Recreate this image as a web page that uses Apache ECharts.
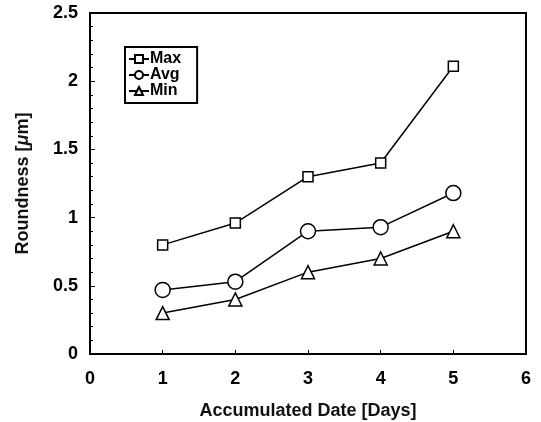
<!DOCTYPE html>
<html>
<head>
<meta charset="utf-8">
<script src="https://cdn.jsdelivr.net/npm/echarts@6/dist/echarts.min.js"></script>
<style>
  html, body { margin: 0; padding: 0; background: #fff; }
  #main { width: 541px; height: 422px; }
</style>
</head>
<body>
<div id="main"></div>
<script>
  // data
  const days = [1, 2, 3, 4, 5]
  const maxVals = [0.8, 0.96, 1.3, 1.4, 2.11]
  const avgVals = [0.47, 0.53, 0.9, 0.93, 1.18]
  const minVals = [0.3, 0.4, 0.6, 0.7, 0.9]

  const pairs = (ys) => days.map((d, i) => [d, ys[i]])
  const font = 'Arial, "Liberation Sans", Helvetica, sans-serif'

  function lineSeries(name, ys, symbol, size) {
    return {
      name: name,
      type: 'line',
      data: pairs(ys),
      symbol: symbol,
      symbolSize: size,
      showAllSymbol: true,
      lineStyle: { color: '#000', width: 1.5 },
      itemStyle: { color: '#fff', borderColor: '#000', borderWidth: 1.5 },
      emphasis: { disabled: true },
      z: 3
    }
  }

  let myChart = echarts.init(document.getElementById('main'), null, { renderer: 'canvas' })
  myChart.setOption({
    animation: false,
    backgroundColor: '#fff',
    grid: {
      left: 90, right: 15, top: 13, bottom: 68,
      outerBoundsMode: 'none',
      show: true, borderColor: '#000', borderWidth: 2
    },
    legend: {
      left: 125, top: 47,
      orient: 'vertical',
      itemGap: 0,
      itemWidth: 20,
      itemHeight: 10,
      padding: [4, 16, 4, 3],
      borderColor: '#000',
      borderWidth: 2,
      textStyle: { fontFamily: font, fontSize: 16, lineHeight: 15, fontWeight: 'bold', color: '#000', padding: [0, 0, 0, -4] },
      data: ['Max', 'Avg', 'Min']
    },
    xAxis: {
      type: 'value',
      min: 0, max: 6, interval: 1,
      name: 'Accumulated Date [Days]',
      nameLocation: 'middle',
      nameGap: 48,
      nameTextStyle: { fontFamily: font, fontSize: 18, fontWeight: 'bold', color: '#111' },
      axisLine: { show: true, lineStyle: { color: '#000', width: 2 } },
      axisTick: { show: true, inside: true, length: 4, lineStyle: { color: '#000' } },
      axisLabel: { fontFamily: font, fontSize: 18, fontWeight: 'bold', color: '#000', margin: 16 },
      splitLine: { show: false }
    },
    yAxis: {
      type: 'value',
      min: 0, max: 2.5, interval: 0.5,
      name: 'Roundness [{mu|μ}m]',
      nameLocation: 'middle',
      nameGap: 58,
      nameTextStyle: {
        fontFamily: font, fontSize: 18, fontWeight: 'bold', color: '#111',
        rich: { mu: { fontFamily: font, fontSize: 18, fontWeight: 'bold', fontStyle: 'italic', color: '#111' } }
      },
      axisLine: { show: true, lineStyle: { color: '#000', width: 2 } },
      axisTick: { show: true, inside: true, length: 5, lineStyle: { color: '#000' } },
      minorTick: { show: true, splitNumber: 5, length: 3, lineStyle: { color: '#000' } },
      axisLabel: { fontFamily: font, fontSize: 18, fontWeight: 'bold', color: '#000', margin: 12 },
      splitLine: { show: false }
    },
    series: [
      lineSeries('Max', maxVals, 'rect', 10),
      lineSeries('Avg', avgVals, 'circle', 15),
      lineSeries('Min', minVals, 'triangle', 13)
    ]
  })
</script>
</body>
</html>
